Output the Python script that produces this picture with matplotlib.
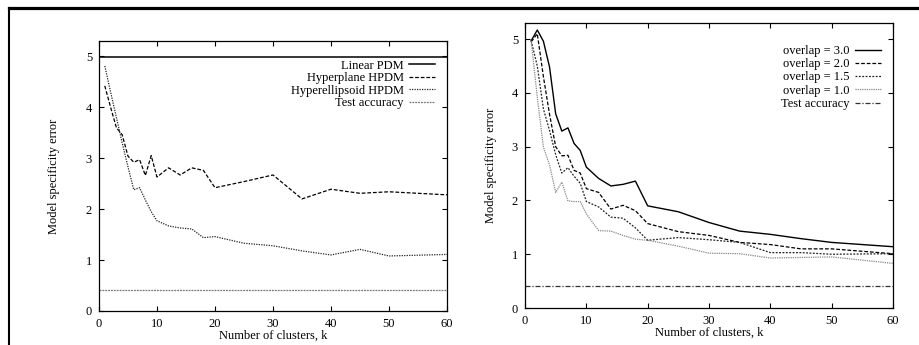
import matplotlib
matplotlib.use("Agg")
import matplotlib.pyplot as plt
from matplotlib.lines import Line2D

plt.rcParams.update({
    "font.family": "Liberation Serif",
    "font.size": 9,
    "axes.linewidth": 0.9,
    "xtick.direction": "in",
    "ytick.direction": "in",
    "xtick.top": True,
    "ytick.right": True,
    "xtick.major.size": 3.5,
    "ytick.major.size": 3.5,
})

# ---- left panel: PDM variants ----
k_left = [1, 2, 3, 4, 5, 6, 7, 8, 9, 10, 12, 14, 16, 18, 20, 25, 30, 35, 40, 45, 50, 60]
linear_pdm = 4.98
hyperplane = [4.42, 4.0, 3.6, 3.46, 3.04, 2.92, 2.97, 2.66, 3.05, 2.63, 2.81, 2.67, 2.81,
              2.76, 2.42, 2.54, 2.67, 2.20, 2.39, 2.31, 2.34, 2.28]
hyperellipsoid = [4.81, 4.3, 3.8, 3.3, 2.83, 2.38, 2.42, 2.18, 1.95, 1.77, 1.67, 1.63, 1.61,
                  1.44, 1.46, 1.33, 1.28, 1.18, 1.10, 1.21, 1.08, 1.11]
test_acc_left = 0.42

# ---- right panel: overlap ----
k_right = [1, 2, 3, 4, 5, 6, 7, 8, 9, 10, 12, 14, 16, 18, 20, 25, 30, 35, 40, 45, 50, 60]
ov30 = [4.97, 5.17, 4.96, 4.48, 3.61, 3.29, 3.35, 3.06, 2.93, 2.62, 2.41, 2.27, 2.30, 2.36,
        1.90, 1.79, 1.59, 1.43, 1.37, 1.29, 1.22, 1.14]
ov20 = [4.95, 5.10, 4.30, 3.60, 3.00, 2.83, 2.84, 2.56, 2.51, 2.22, 2.15, 1.84, 1.91, 1.81,
        1.57, 1.42, 1.35, 1.22, 1.18, 1.10, 1.10, 1.01]
ov15 = [4.97, 4.50, 3.70, 3.30, 2.85, 2.51, 2.61, 2.45, 2.32, 1.98, 1.88, 1.69, 1.67, 1.49,
        1.26, 1.31, 1.27, 1.22, 1.03, 1.03, 1.00, 1.01]
ov10 = [4.97, 3.92, 2.99, 2.66, 2.15, 2.34, 1.99, 1.98, 1.98, 1.75, 1.44, 1.43, 1.35, 1.28,
        1.26, 1.15, 1.02, 1.01, 0.93, 0.94, 0.95, 0.83]
test_acc_right = 0.41

fig = plt.figure(figsize=(9.19, 3.45), dpi=100)

# page frame (top bar + left rule) like the source scan
fig.add_artist(Line2D([0.0093, 1.0], [0.978, 0.978], color="black", lw=2.3,
                      transform=fig.transFigure))
fig.add_artist(Line2D([0.0098, 0.0098], [0.0, 0.978], color="black", lw=1.5,
                      transform=fig.transFigure))

ax1 = fig.add_axes([0.1077, 0.0986, 0.3787, 0.7826])
ax1.axhline(linear_pdm, color="black", lw=1.1, label="Linear PDM")
ax1.plot(k_left, hyperplane, color="black", lw=0.9, ls=(0, (3, 1.5)), label="Hyperplane HPDM")
ax1.plot(k_left, hyperellipsoid, color="#222222", lw=0.9, ls=(0, (1, 1)), label="Hyperellipsoid HPDM")
ax1.axhline(test_acc_left, color="#777777", lw=0.9, ls=(0, (1.5, 0.8)), label="Test accuracy")

ax2 = fig.add_axes([0.5713, 0.1072, 0.4004, 0.8261])
ax2.plot(k_right, ov30, color="black", lw=1.0, label="overlap = 3.0")
ax2.plot(k_right, ov20, color="black", lw=0.9, ls=(0, (3, 1.5)), label="overlap = 2.0")
ax2.plot(k_right, ov15, color="#222222", lw=0.9, ls=(0, (1.5, 1.2)), label="overlap = 1.5")
ax2.plot(k_right, ov10, color="#888888", lw=0.9, ls=(0, (1, 0.8)), label="overlap = 1.0")
ax2.axhline(test_acc_right, color="#333333", lw=0.9, ls=(0, (4, 1.5, 1, 1.5)), label="Test accuracy")

for ax, anchor, lp, sp in ((ax1, (0.966, 0.931), 18.5, 0.05),
                           (ax2, (0.967, 0.923), 10.5, 0.1)):
    ax.set_xlim(0, 60)
    ax.set_ylim(0, 5.3)
    ax.set_xticks(range(0, 61, 10))
    ax.set_yticks(range(0, 6))
    ax.set_xlabel("Number of clusters, k", labelpad=0)
    ax.set_ylabel("Model specificity error", labelpad=lp)
    ax.tick_params(pad=5)
    ax.legend(loc="upper right", bbox_to_anchor=anchor, frameon=False, markerfirst=False,
              handlelength=2.1, handletextpad=0.4, labelspacing=sp,
              borderaxespad=0, borderpad=0)

fig.savefig("out.png", dpi=100, facecolor="white")
